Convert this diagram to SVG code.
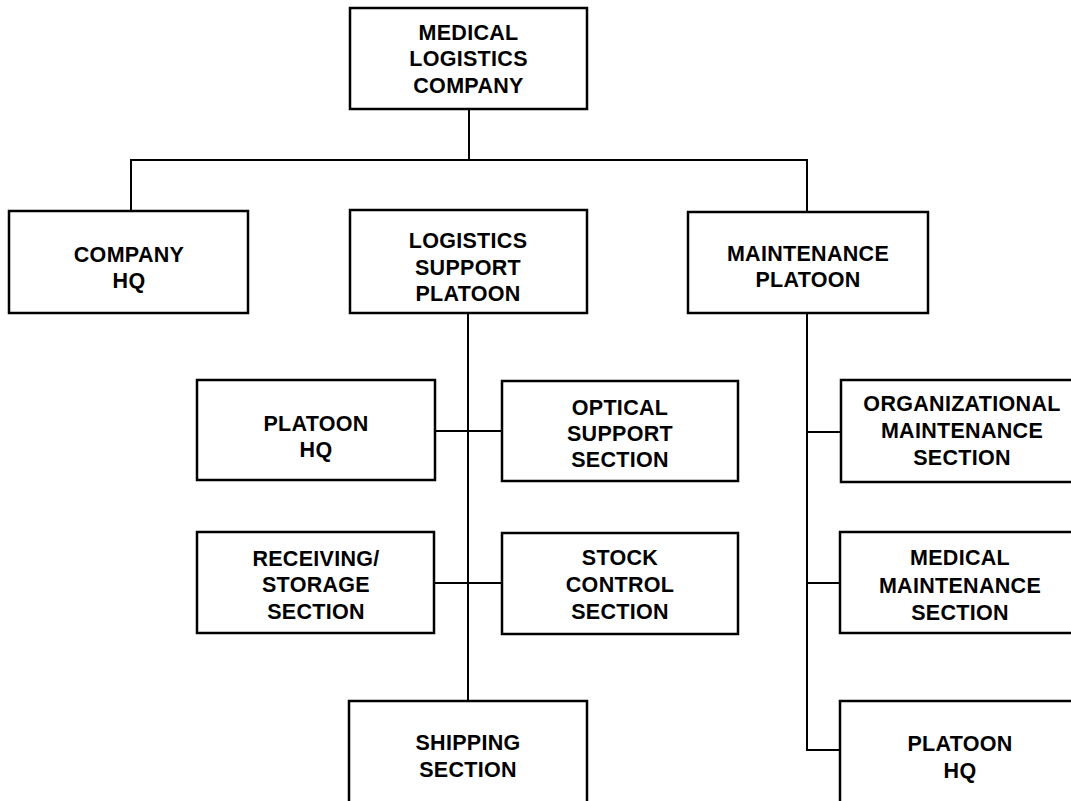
<svg xmlns="http://www.w3.org/2000/svg" width="1071" height="801" viewBox="0 0 1071 801">
<style>
.box{fill:#fff;stroke:#000;stroke-width:2.5}
.ln{fill:none;stroke:#000;stroke-width:2}
text{font-family:"Liberation Sans",Arial,sans-serif;font-weight:bold;font-size:21.5px;letter-spacing:0.3px;text-anchor:middle;fill:#000}
</style>
<rect width="1071" height="801" fill="#fff"/>
<g id="connectors">
<path class="ln" d="M469 109V160M131 211V160H807V212M468 313V701M435 431H502M434 583H502M807 313V750H840M807 432H841M807 583H840"/>
</g>
<g id="medical-logistics-company">
<rect class="box" x="350" y="8" width="237" height="101"/>
<text x="468.5" y="40">MEDICAL</text>
<text x="468.5" y="66">LOGISTICS</text>
<text x="468.5" y="93">COMPANY</text>
</g>
<g id="company-hq">
<rect class="box" x="9" y="211" width="239" height="102"/>
<text x="129" y="262">COMPANY</text>
<text x="129" y="288">HQ</text>
</g>
<g id="logistics-support-platoon">
<rect class="box" x="350" y="210" width="237" height="103"/>
<text x="468" y="248">LOGISTICS</text>
<text x="468" y="275">SUPPORT</text>
<text x="468" y="301">PLATOON</text>
</g>
<g id="maintenance-platoon">
<rect class="box" x="688" y="212" width="240" height="101"/>
<text x="808" y="261">MAINTENANCE</text>
<text x="808" y="287">PLATOON</text>
</g>
<g id="platoon-hq-1">
<rect class="box" x="197" y="380" width="238" height="100"/>
<text x="316" y="431">PLATOON</text>
<text x="316" y="457">HQ</text>
</g>
<g id="optical-support-section">
<rect class="box" x="502" y="381" width="236" height="100"/>
<text x="620" y="415">OPTICAL</text>
<text x="620" y="441">SUPPORT</text>
<text x="620" y="467">SECTION</text>
</g>
<g id="receiving-storage-section">
<rect class="box" x="197" y="532" width="237" height="101"/>
<text x="316" y="566">RECEIVING/</text>
<text x="316" y="592">STORAGE</text>
<text x="316" y="619">SECTION</text>
</g>
<g id="stock-control-section">
<rect class="box" x="502" y="533" width="236" height="101"/>
<text x="620" y="565">STOCK</text>
<text x="620" y="592">CONTROL</text>
<text x="620" y="619">SECTION</text>
</g>
<g id="shipping-section">
<rect class="box" x="349" y="701" width="238" height="120"/>
<text x="468" y="750">SHIPPING</text>
<text x="468" y="777">SECTION</text>
</g>
<g id="organizational-maintenance-section">
<rect class="box" x="841" y="380" width="245" height="102"/>
<text x="962" y="411">ORGANIZATIONAL</text>
<text x="962" y="438">MAINTENANCE</text>
<text x="962" y="465">SECTION</text>
</g>
<g id="medical-maintenance-section">
<rect class="box" x="840" y="532" width="246" height="101"/>
<text x="960" y="565">MEDICAL</text>
<text x="960" y="593">MAINTENANCE</text>
<text x="960" y="620">SECTION</text>
</g>
<g id="platoon-hq-2">
<rect class="box" x="840" y="701" width="246" height="120"/>
<text x="960" y="751">PLATOON</text>
<text x="960" y="778">HQ</text>
</g>
</svg>
